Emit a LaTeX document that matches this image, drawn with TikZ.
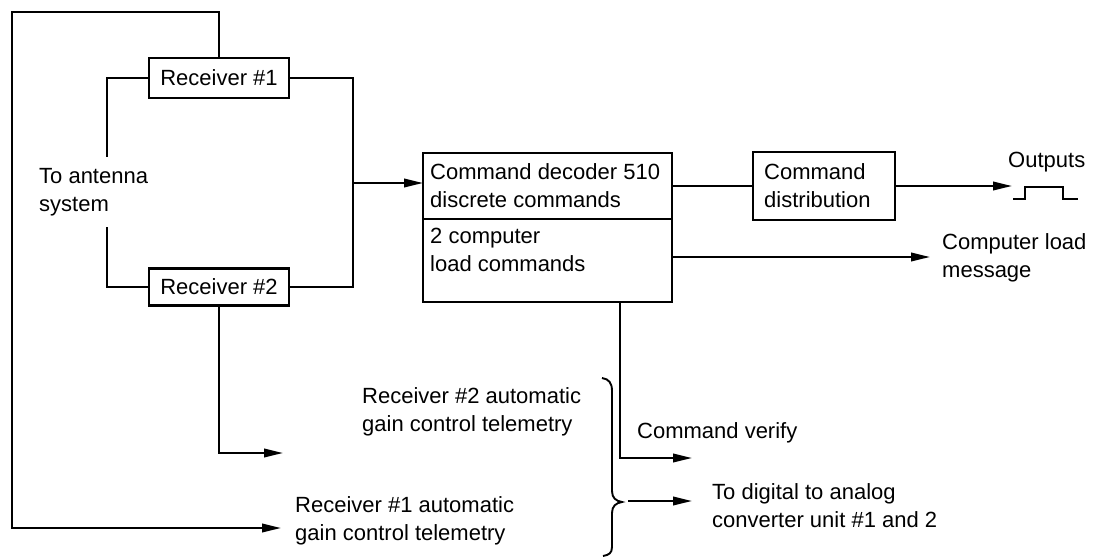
\documentclass[tikz,border=0pt]{standalone}
\usepackage{fontspec}
\setmainfont{Liberation Sans}
\usetikzlibrary{arrows.meta}
\begin{document}
\begin{tikzpicture}[x=1pt,y=-1pt,
  every node/.style={font=\fontsize{22}{28}\selectfont},
  line/.style={line width=2.2pt, line join=miter},
  arr/.style={line, -{Triangle[length=19pt,width=8.5pt]}},
  box/.style={draw, line width=2.4pt, inner sep=0pt, outer sep=0pt},
  txt/.style={inner sep=0pt, anchor=west, align=left}]
\useasboundingbox (0,0) rectangle (1096,557);

% boxes
\node[box, minimum width=140pt, minimum height=40pt] (r1) at (219,78) {Receiver \#1};
\node[box, minimum width=140pt, minimum height=37pt] (r2) at (219,287) {Receiver \#2};
\node[box, minimum width=249pt, minimum height=66pt] (dect) at (547.5,186) {};
\node[box, minimum width=249pt, minimum height=83pt, anchor=north] (decb) at (dect.south) {};
\node[txt] (dectxt) at (430,186) {Command decoder 510\\discrete commands};
\node[txt] (decbtxt) at (430,250) {2 computer\\load commands};
\node[box, minimum width=142pt, minimum height=68pt] (dist) at (824,186) {};
\node[txt] (disttxt) at (764,186) {Command\\distribution};

% free texts
\node[txt] (ant) at (39,192) {To antenna\\system};
\node[txt] (outs) at (1008,162) {Outputs};
\node[txt] (clm) at (942,258) {Computer load\\message};
\node[txt] (agc2t) at (362,412) {Receiver \#2 automatic\\gain control telemetry};
\node[txt] (agc1t) at (295,521) {Receiver \#1 automatic\\gain control telemetry};
\node[txt] (cvt) at (637,433) {Command verify};
\node[txt] (dact) at (712,506) {To digital to analog\\converter unit \#1 and 2};

% coordinates
\coordinate (tl) at (12,12);
\coordinate (agc1) at (281,528);
\coordinate (agc2) at (283,453);
\coordinate (ant1) at (107,157);
\coordinate (ant2) at (107,227);
\coordinate (bus) at (353,183);
\coordinate (outa) at (1012,186);
\coordinate (cl) at (930,257);
\coordinate (cvc) at (620,458);
\coordinate (cv) at (692,458);
\coordinate (btip) at (628,501);
\coordinate (dac) at (692,501);

% connectors
\draw[arr] (r1.north) |- (tl) |- (agc1);
\draw[arr] (r2.south) |- (agc2);
\draw[line] (r1.west) -| (ant1);
\draw[line] (r2.west) -| (ant2);
\draw[line] (r1.east) -| (bus) |- (r2.east);
\draw[arr] (bus) -- (bus -| dect.west);
\draw[line] (dect.east) -- (dist.west);
\draw[arr] (dist.east) -- (outa);
\draw[arr] (cl -| decb.east) -- (cl);
\draw[arr] (decb.south -| cvc) -- (cvc) -- (cv);
\draw[arr] (btip) -- (dac);

% pulse
\draw[line] (1013,199) -- (1025,199) -- (1025,187) -- (1063,187) -- (1063,199) -- (1078,199);

% brace
\draw[line width=1.9pt] (602,378) .. controls (609,379) and (612,383) .. (612,391) -- (612,491)
  .. controls (612,498) and (616,501) .. (622,502)
  .. controls (616,503) and (612,506) .. (612,513) -- (612,547)
  .. controls (612,553) and (609,555) .. (603,556);
\end{tikzpicture}
\end{document}
